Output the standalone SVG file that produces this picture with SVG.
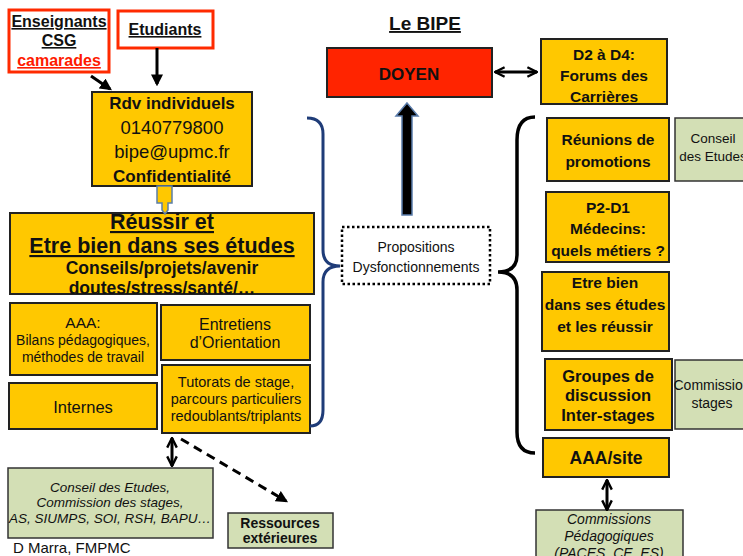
<svg xmlns="http://www.w3.org/2000/svg" width="743" height="556" viewBox="0 0 743 556">
  <defs>
    <style>
      text { font-family: "Liberation Sans", Arial, sans-serif; fill: #111; text-anchor: middle; }
      .b { font-weight: bold; }
      .i { font-style: italic; }
      .u { text-decoration: underline; }
      .yel { fill: #FFC800; stroke: #222; stroke-width: 2; }
      .grn { fill: #D3DFB5; stroke: #333; stroke-width: 1.5; }
      .redbox { fill: #fff; stroke: #FF2A00; stroke-width: 3; }
      .ln { fill: none; stroke: #000; stroke-width: 3; }
    </style>
    <marker id="head" viewBox="0 0 10 10" refX="8" refY="5" markerWidth="4" markerHeight="4" orient="auto-start-reverse">
      <path d="M0,0 L10,5 L0,10 z" fill="#000"/>
    </marker>
    <marker id="chev" viewBox="0 0 10 10" refX="9" refY="5" markerWidth="4" markerHeight="4" orient="auto-start-reverse">
      <path d="M1,1 L9,5 L1,9" fill="none" stroke="#000" stroke-width="2"/>
    </marker>
  </defs>

  <!-- title -->
  <text x="425" y="30" class="b u" font-size="19">Le BIPE</text>

  <g id="enseignants">
    <rect class="redbox" x="9" y="10" width="100" height="62"/>
    <text x="59" y="27" class="b u" font-size="16">Enseignants</text>
    <text x="59" y="46" class="b u" font-size="16">CSG</text>
    <text x="59" y="66" class="b u" font-size="16" style="fill:#FF1A00">camarades</text>
  </g>

  <g id="etudiants">
    <rect class="redbox" x="118" y="11" width="95" height="37"/>
    <text x="165" y="35" class="b u" font-size="16">Etudiants</text>
  </g>

  <g id="rdv">
    <rect class="yel" x="92" y="92" width="160" height="94"/>
    <text x="172" y="109" class="b" font-size="17">Rdv individuels</text>
    <text x="172" y="134" font-size="18.5">0140779800</text>
    <text x="172" y="158" font-size="18.5">bipe@upmc.fr</text>
    <text x="172" y="182" class="b" font-size="17">Confidentialité</text>
  </g>

  <g id="reussir">
    <rect class="yel" x="10" y="213" width="304" height="81"/>
    <text x="162" y="229" class="b u" font-size="21.5">Réussir et</text>
    <text x="162" y="253" class="b u" font-size="21.5">Etre bien dans ses études</text>
    <text x="162" y="274" class="b" font-size="17.5">Conseils/projets/avenir</text>
    <text x="162" y="294" class="b" font-size="17.5">doutes/stress/santé/…</text>
  </g>

  <g id="aaa">
    <rect class="yel" x="10" y="303" width="147" height="72"/>
    <text x="83" y="328" font-size="15.5">AAA:</text>
    <text x="83" y="345" font-size="14">Bilans pédagogiques,</text>
    <text x="83" y="362" font-size="14">méthodes de travail</text>
  </g>

  <g id="entretiens">
    <rect class="yel" x="161" y="305" width="149" height="55"/>
    <text x="235" y="330" font-size="16">Entretiens</text>
    <text x="235" y="348" font-size="16">d’Orientation</text>
  </g>

  <g id="internes">
    <rect class="yel" x="9" y="383" width="148" height="46"/>
    <text x="83" y="413" font-size="16.5">Internes</text>
  </g>

  <g id="tutorats">
    <rect class="yel" x="162" y="365" width="148" height="68"/>
    <text x="236" y="387" font-size="14.5">Tutorats de stage,</text>
    <text x="236" y="404" font-size="14.5">parcours particuliers</text>
    <text x="236" y="421" font-size="14.5">redoublants/triplants</text>
  </g>

  <g id="conseil-gauche">
    <rect class="grn" x="8" y="468" width="205" height="70"/>
    <text x="110" y="492" class="i" font-size="13.5">Conseil des Etudes,</text>
    <text x="110" y="507" class="i" font-size="13.5">Commission des stages,</text>
    <text x="110" y="523" class="i" font-size="13.5">AS, SIUMPS, SOI, RSH, BAPU…</text>
  </g>

  <g id="ressources">
    <rect class="grn" x="228" y="513" width="105" height="35"/>
    <text x="280" y="528" class="b" font-size="14">Ressources</text>
    <text x="280" y="543" class="b" font-size="14">extérieures</text>
  </g>

  <text x="13" y="553" font-size="15" style="text-anchor:start">D Marra, FMPMC</text>

  <g id="doyen">
    <rect x="327" y="48" width="165" height="49" fill="#FF2400" stroke="#222" stroke-width="2"/>
    <text x="409" y="80" class="b" font-size="17">DOYEN</text>
  </g>

  <g id="forums">
    <rect class="yel" x="541" y="39" width="126" height="65"/>
    <text x="604" y="60" class="b" font-size="15.5">D2 à D4:</text>
    <text x="604" y="81" class="b" font-size="15.5">Forums des</text>
    <text x="604" y="102" class="b" font-size="15.5">Carrières</text>
  </g>

  <g id="propositions">
    <rect x="342" y="227" width="148" height="57" fill="#fff" stroke="#000" stroke-width="2.5" stroke-dasharray="2.5 2.5"/>
    <text x="416" y="252" font-size="14">Propositions</text>
    <text x="416" y="272" font-size="14">Dysfonctionnements</text>
  </g>

  <g id="reunions">
    <rect class="yel" x="547" y="118" width="122" height="63"/>
    <text x="608" y="145" class="b" font-size="15.5">Réunions de</text>
    <text x="608" y="167" class="b" font-size="15.5">promotions</text>
  </g>

  <g id="conseil-droite">
    <rect class="grn" x="675" y="118" width="80" height="63"/>
    <text x="713" y="143" font-size="13.5">Conseil</text>
    <text x="713" y="161" font-size="13.5">des Etudes</text>
  </g>

  <g id="p2d1">
    <rect class="yel" x="546" y="192" width="123" height="70"/>
    <text x="608" y="213" class="b" font-size="15.5">P2-D1</text>
    <text x="608" y="234" class="b" font-size="15.5">Médecins:</text>
    <text x="608" y="256" class="b" font-size="15.5">quels métiers ?</text>
  </g>

  <g id="etre-bien">
    <rect class="yel" x="542" y="272" width="127" height="79"/>
    <text x="605" y="288" class="b" font-size="15.5">Etre bien</text>
    <text x="605" y="310" class="b" font-size="15.5">dans ses études</text>
    <text x="605" y="332" class="b" font-size="15.5">et les réussir</text>
  </g>

  <g id="groupes">
    <rect class="yel" x="545" y="359" width="127" height="71" stroke-width="3"/>
    <text x="608" y="382" class="b" font-size="16.5">Groupes de</text>
    <text x="608" y="401" class="b" font-size="16.5">discussion</text>
    <text x="608" y="421" class="b" font-size="16.5">Inter-stages</text>
  </g>

  <g id="commission-stages">
    <rect class="grn" x="675" y="360" width="80" height="69"/>
    <text x="712" y="390" font-size="14">Commission</text>
    <text x="712" y="408" font-size="14">stages</text>
  </g>

  <g id="aaa-site">
    <rect class="yel" x="543" y="438" width="126" height="39"/>
    <text x="606" y="464" class="b" font-size="17.5">AAA/site</text>
  </g>

  <g id="commissions-peda">
    <rect class="grn" x="536" y="510" width="147" height="60"/>
    <text x="609" y="524" class="i" font-size="14">Commissions</text>
    <text x="609" y="541" class="i" font-size="14">Pédagogiques</text>
    <text x="609" y="558" class="i" font-size="14">(PACES, CE, ES)</text>
  </g>

  <g id="connectors">
    <!-- inputs to the appointment box -->
    <line class="ln" x1="91" y1="76" x2="110" y2="89" marker-end="url(#head)" stroke-width="2.5"/>
    <line class="ln" x1="157" y1="48" x2="157" y2="84" marker-end="url(#head)" stroke-width="2.5"/>
    <!-- small block arrow from appointments to studies -->
    <polygon points="157,186 172,186 172,203 168,203 168,210 165,214 162,210 162,203 157,203" fill="#FFC800" stroke="#5B7FA8" stroke-width="1.5"/>
    <!-- tutorats links -->
    <line class="ln" x1="172" y1="438" x2="172" y2="466" marker-start="url(#chev)" marker-end="url(#chev)"/>
    <line class="ln" x1="181" y1="439" x2="286" y2="501" stroke-dasharray="9 6" marker-end="url(#head)"/>
    <!-- dean to forums -->
    <line class="ln" x1="495" y1="72" x2="537" y2="72" stroke-width="2.5" marker-start="url(#chev)" marker-end="url(#chev)"/>
    <!-- proposals up to the dean -->
    <polygon points="407,103 418,116 412,116 412,215 402,215 402,116 396,116" fill="#000" stroke="#5A7CAB" stroke-width="1.5"/>
    <!-- AAA/site to pedagogical commissions -->
    <line class="ln" x1="607" y1="480" x2="607" y2="510" marker-start="url(#chev)" marker-end="url(#chev)"/>
    <!-- left brace (blue) -->
    <path d="M307,118 Q323,118 323,134 L323,250 Q323,266 340,266 Q323,266 323,282 L323,410 Q323,426 310,426" fill="none" stroke="#1F3C78" stroke-width="3"/>
    <!-- right brace (black) -->
    <path d="M535,117 Q517,117 517,140 L517,255 Q517,272 498,272 Q517,272 517,290 L517,432 Q517,453 535,453" fill="none" stroke="#000" stroke-width="3.5"/>
  </g>
</svg>
